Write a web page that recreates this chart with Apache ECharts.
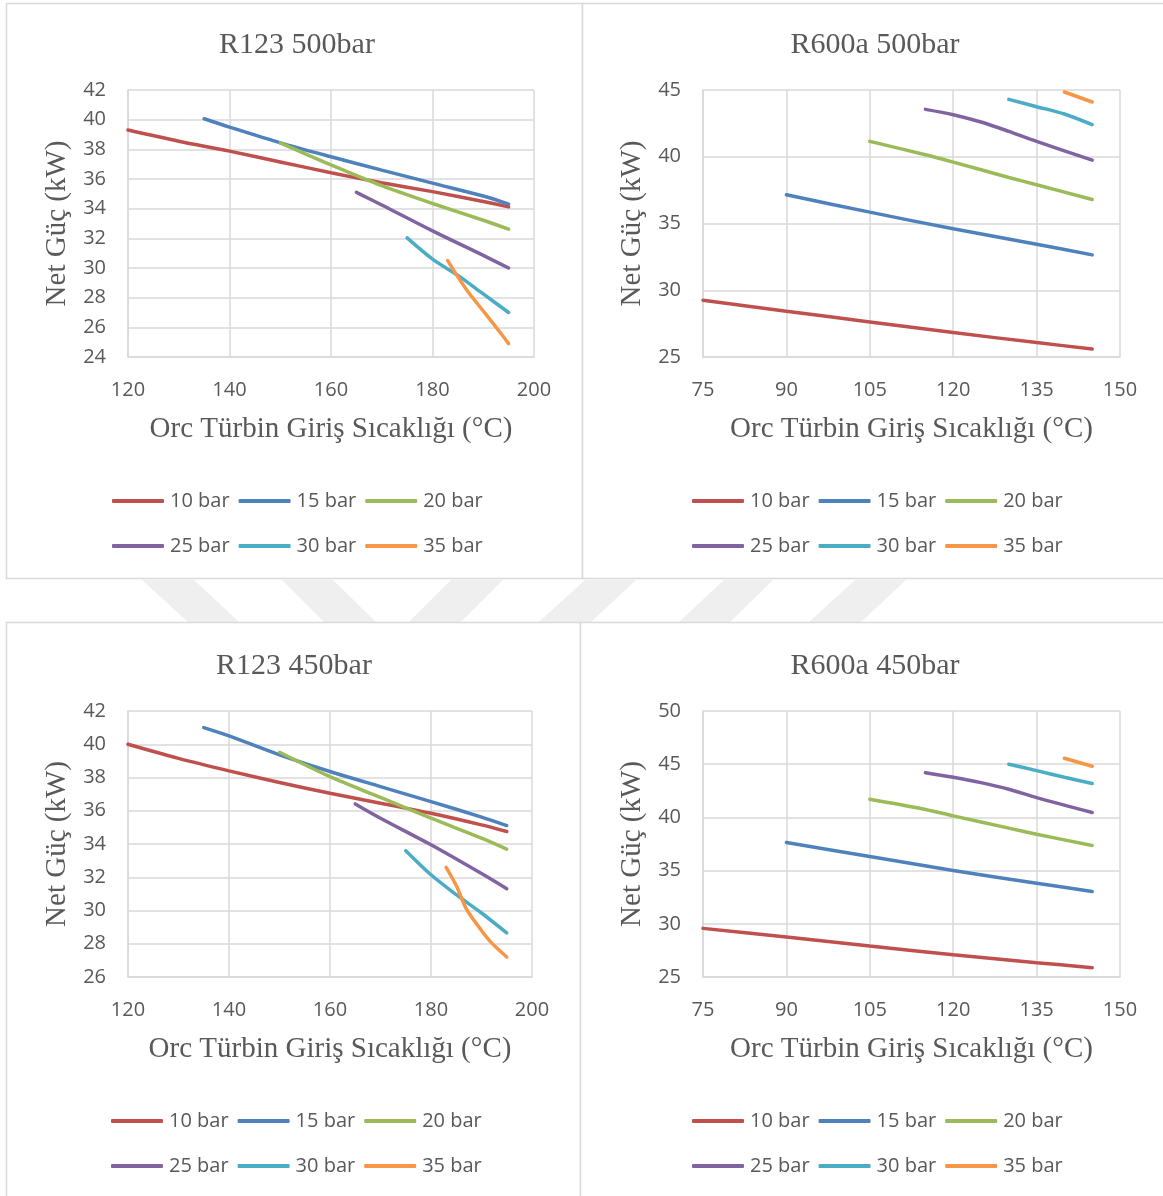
<!DOCTYPE html>
<html>
<head>
<meta charset="utf-8">
<script src="https://cdn.jsdelivr.net/npm/echarts@6/dist/echarts.min.js"></script>
<style>
html,body{margin:0;padding:0;background:#fff;}
#c{width:1163px;height:1196px;}
</style>
</head>
<body>
<div id="c"></div>
<script>
// ---------- DATA ----------
const seriesNames = ['10 bar', '15 bar', '20 bar', '25 bar', '30 bar', '35 bar'];
const chartTitles = ['R123 500bar', 'R600a 500bar', 'R123 450bar', 'R600a 450bar'];
const xAxisTitle = 'Orc Türbin Giriş Sıcaklığı (°C)';
const yAxisTitle = 'Net Güç (kW)';

// R123 500bar  [temperature °C, net power kW]
const r123_500_10 = [[120,39.3],[130,38.55],[140,37.88],[150,37.15],[160,36.42],[170,35.75],[180,35.15],[190,34.48],[195,34.12]];
const r123_500_15 = [[135,40.06],[140,39.5],[150,38.44],[160,37.5],[170,36.6],[180,35.72],[190,34.85],[195,34.3]];
const r123_500_20 = [[150,38.44],[160,36.95],[170,35.55],[180,34.35],[190,33.22],[195,32.62]];
const r123_500_25 = [[165,35.1],[170,34.25],[180,32.5],[190,30.85],[195,30.0]];
const r123_500_30 = [[175,32.03],[180,30.6],[185,29.5],[190,28.25],[195,27.0]];
const r123_500_35 = [[183,30.5],[185,29.4],[187,28.4],[190,27.1],[193,25.8],[195,24.9]];

// R600a 500bar
const r600a_500_10 = [[75,29.25],[90,28.43],[105,27.63],[120,26.83],[135,26.08],[145,25.6]];
const r600a_500_15 = [[90,37.15],[105,35.85],[120,34.6],[135,33.45],[145,32.65]];
const r600a_500_20 = [[105,41.15],[115,40.15],[120,39.6],[130,38.45],[135,37.9],[145,36.8]];
const r600a_500_25 = [[115,43.55],[120,43.15],[125,42.6],[130,41.9],[135,41.15],[145,39.75]];
const r600a_500_30 = [[130,44.3],[135,43.75],[140,43.2],[145,42.4]];
const r600a_500_35 = [[140,44.85],[145,44.1]];

// R123 450bar
const r123_450_10 = [[120,40.0],[130,39.15],[140,38.4],[150,37.7],[160,37.05],[170,36.45],[180,35.85],[190,35.15],[195,34.75]];
const r123_450_15 = [[135,41.0],[140,40.5],[150,39.36],[160,38.36],[170,37.45],[180,36.55],[190,35.62],[195,35.11]];
const r123_450_20 = [[150,39.52],[160,38.05],[170,36.8],[180,35.55],[190,34.35],[195,33.69]];
const r123_450_25 = [[165,36.41],[170,35.55],[180,33.95],[190,32.22],[195,31.31]];
const r123_450_30 = [[175,33.6],[180,32.15],[185,30.95],[190,29.85],[195,28.65]];
const r123_450_35 = [[183,32.6],[185,31.5],[187,30.1],[190,28.8],[192,28.05],[195,27.2]];

// R600a 450bar
const r600a_450_10 = [[75,29.57],[90,28.75],[105,27.91],[120,27.1],[135,26.35],[145,25.88]];
const r600a_450_15 = [[90,37.64],[105,36.33],[120,35.0],[135,33.82],[145,33.04]];
const r600a_450_20 = [[105,41.7],[115,40.75],[120,40.14],[130,38.99],[135,38.42],[145,37.36]];
const r600a_450_25 = [[115,44.2],[120,43.77],[125,43.27],[130,42.65],[135,41.86],[145,40.46]];
const r600a_450_30 = [[130,45.0],[135,44.4],[140,43.77],[145,43.18]];
const r600a_450_35 = [[140,45.56],[145,44.81]];

// axis scales per chart: [min, max, interval]
const xScales = [[120,200,20],[75,150,15],[120,200,20],[75,150,15]];
const yScales = [[24,42,2],[25,45,5],[26,42,2],[25,50,5]];

const chartData = [
  [r123_500_10, r123_500_15, r123_500_20, r123_500_25, r123_500_30, r123_500_35],
  [r600a_500_10, r600a_500_15, r600a_500_20, r600a_500_25, r600a_500_30, r600a_500_35],
  [r123_450_10, r123_450_15, r123_450_20, r123_450_25, r123_450_30, r123_450_35],
  [r600a_450_10, r600a_450_15, r600a_450_20, r600a_450_25, r600a_450_30, r600a_450_35]
];

// ---------- LAYOUT / STYLE ----------
const colors = ['#C0504D', '#4F81BD', '#9BBB59', '#8064A2', '#4BACC6', '#F79646'];
const grids = [
  {left:128, top:90, width:406, height:267},
  {left:703, top:90, width:417, height:267},
  {left:128, top:711, width:404, height:266},
  {left:703, top:711, width:417, height:266}
];
const titlePos = [[292,25],[870,25],[289,646],[870,646]];
const legendLeft = [112, 692, 111, 692];
const legendTop = [[491,536],[491,536],[1111,1156],[1111,1156]];

const txt = '#595959';
const gridCol = '#d9d9d9';
const serif = 'Liberation Serif';
const sans = 'Open Sans';

const option = {
  animation: false,
  backgroundColor: '#fff',
  title: [], legend: [], grid: [], xAxis: [], yAxis: [], series: [],
  graphic: []
};

// panel frames & faint watermark
const frames = [
  {x:6, y:3, w:576, h:575},
  {x:582, y:3, w:590, h:575},
  {x:6, y:622, w:574, h:580},
  {x:580, y:622, w:590, h:580}
];
const stripes = [
  [[142,580],[194,580],[239,622],[188,622]],
  [[282,580],[333,580],[376,622],[324,622]],
  [[451,580],[503,580],[461,622],[409,622]],
  [[585,580],[636,580],[591,622],[539,622]],
  [[724,580],[773,580],[730,622],[679,622]],
  [[855,580],[906,580],[861,622],[809,622]]
];
stripes.forEach(p => option.graphic.push({type:'polygon', shape:{points:p}, style:{fill:'#efefef'}, silent:true, z:-10}));
frames.forEach(f => option.graphic.push({type:'rect', shape:{x:f.x+0.5, y:f.y+0.5, width:f.w, height:f.h}, style:{fill:'#fff', stroke:gridCol, lineWidth:1.5}, silent:true, z:-5}));

for (let i = 0; i < 4; i++) {
  option.title.push({
    text: chartTitles[i], left: titlePos[i][0], top: titlePos[i][1], textAlign: 'center',
    textStyle: {fontFamily: serif, fontSize: 30, fontWeight: 'normal', color: txt}
  });
  option.grid.push(Object.assign({containLabel:false}, grids[i]));
  option.xAxis.push({
    type:'value', gridIndex:i, min:xScales[i][0], max:xScales[i][1], interval:xScales[i][2],
    name: xAxisTitle, nameLocation:'middle', nameGap:58,
    nameTextStyle:{fontFamily:serif, fontSize:29, color:txt},
    axisLine:{show:true, lineStyle:{color:gridCol, width:1.5}},
    axisTick:{show:false},
    axisLabel:{fontFamily:sans, fontSize:20, color:txt, margin:23},
    splitLine:{show:true, lineStyle:{color:gridCol, width:1.5}}
  });
  option.yAxis.push({
    type:'value', gridIndex:i, min:yScales[i][0], max:yScales[i][1], interval:yScales[i][2],
    name: yAxisTitle, nameLocation:'middle', nameGap:56, nameRotate:90,
    nameTextStyle:{fontFamily:serif, fontSize:29, color:txt},
    axisLine:{show:true, lineStyle:{color:gridCol, width:1.5}},
    axisTick:{show:false},
    axisLabel:{fontFamily:sans, fontSize:20, color:txt, margin:22},
    splitLine:{show:true, lineStyle:{color:gridCol, width:1.5}}
  });
  chartData[i].forEach((d, k) => {
    option.series.push({
      type:'line', name: seriesNames[k], xAxisIndex:i, yAxisIndex:i,
      data: d, showSymbol:false, symbol:'none', smooth:0.3,
      color: colors[k],
      lineStyle:{width:3.5, color: colors[k], cap:'round'}
    });
  });
  [seriesNames.slice(0,3), seriesNames.slice(3)].forEach((names, r) => {
    option.legend.push({
      data: names.map(n => ({name:n, icon:'roundRect'})), left: legendLeft[i], top: legendTop[i][r], orient:'horizontal',
      padding:0, itemWidth:52, itemHeight:4, itemGap:9,
      textStyle:{fontFamily:sans, fontSize:20, color:txt, padding:[0,0,0,1]},
      selectedMode:false
    });
  });
}

const chart = echarts.init(document.getElementById('c'), null, {renderer:'canvas'});
chart.setOption(option);
</script>
</body>
</html>
